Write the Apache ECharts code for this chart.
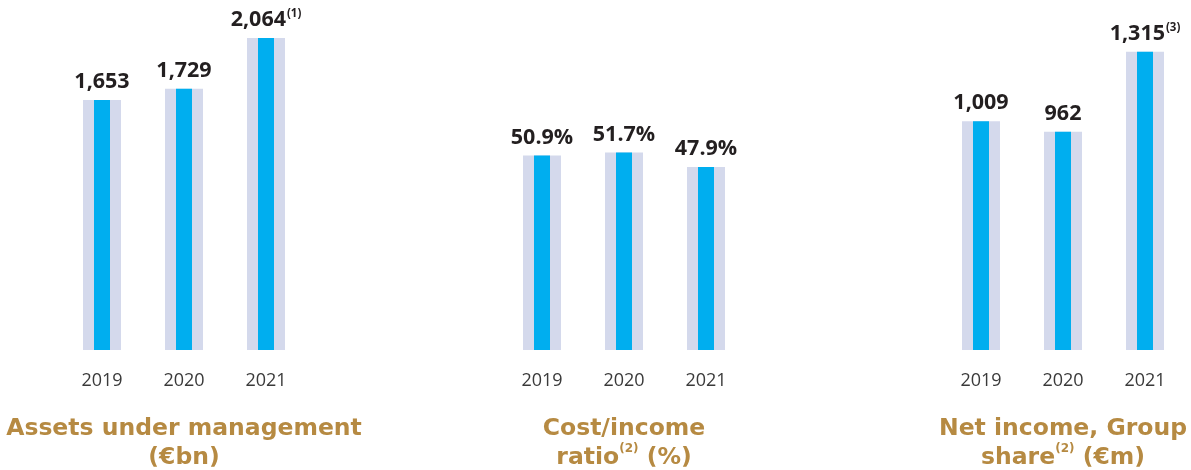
<!DOCTYPE html>
<html>
<head>
<meta charset="utf-8">
<script src="https://cdn.jsdelivr.net/npm/echarts@6/dist/echarts.min.js"></script>
<style>
html,body{margin:0;padding:0;background:#fff;}
#c{width:1191px;height:470px;}
</style>
</head>
<body>
<div id="c"></div>
<script>
// ---- data ----
const years = ['2019', '2020', '2021'];
const aum = [1653, 1729, 2064];
const aumNotes = ['', '', '(1)'];
const costIncome = [50.9, 51.7, 47.9];
const costNotes = ['', '', ''];
const netIncome = [1009, 962, 1315];
const netNotes = ['', '', '(3)'];
const titles = [
  [['Assets under management', ''], ['(€bn)', '']],
  [['Cost/income', ''], ['ratio', '(2)', ' (%)']],
  [['Net income, Group', ''], ['share', '(2)', ' (€m)']]
];

// ---- styling ----
const FONT = '"Open Sans", "Liberation Sans", sans-serif';
const TFONT = '"DejaVu Sans", "Open Sans", sans-serif';
const BLUE = '#00aeef';
const LAV = '#d4d9ec';
const DARK = '#231f20';
const GOLD = '#b68a42';

const panels = [
  { data: aum, notes: aumNotes, fmt: v => v.toLocaleString('en-US'), max: 2183, left: 61 },
  { data: costIncome, notes: costNotes, fmt: v => v.toFixed(1) + '%', max: 86.4, left: 501 },
  { data: netIncome, notes: netNotes, fmt: v => v.toLocaleString('en-US'), max: 1455, left: 940 }
];

const grid = [], xAxis = [], yAxis = [], series = [], graphic = [];
panels.forEach((p, i) => {
  grid.push({ left: p.left, top: 20, width: 246, height: 330, containLabel: false });
  xAxis.push({
    type: 'category', gridIndex: i, data: years,
    axisLine: { show: false }, axisTick: { show: false }, splitLine: { show: false },
    axisLabel: { margin: 22, fontFamily: FONT, fontSize: 18, color: '#3a3a3a' }
  });
  xAxis.push({ type: 'category', gridIndex: i, data: years, show: false });
  yAxis.push({ type: 'value', gridIndex: i, min: 0, max: p.max, show: false, splitLine: { show: false } });
  series.push({
    type: 'bar', xAxisIndex: 2 * i + 1, yAxisIndex: i, data: p.data,
    barWidth: 38, itemStyle: { color: LAV }, silent: true, z: 1
  });
  series.push({
    type: 'bar', xAxisIndex: 2 * i, yAxisIndex: i, data: p.data,
    barWidth: 16, itemStyle: { color: BLUE }, z: 2,
    label: {
      show: true, position: 'top', distance: 6,
      formatter: prm => '{v|' + p.fmt(prm.value) + '}' + (p.notes[prm.dataIndex] ? '{s|' + p.notes[prm.dataIndex] + '}' : ''),
      rich: {
        v: { fontFamily: FONT, fontWeight: 'bold', fontSize: 21.5, color: DARK, lineHeight: 24 },
        s: { fontFamily: FONT, fontWeight: 'bold', fontSize: 11.5, color: DARK, verticalAlign: 'top', lineHeight: 13, padding: [0, 0, 0, 1] }
      }
    }
  });
  const lines = titles[i];
  const txt = lines.map(parts => parts.map((s, k) => s ? (k === 1 ? '{s|' + s + '}' : '{t|' + s + '}') : '').join('')).join('\n');
  graphic.push({
    type: 'text', x: p.left + 123, y: 414,
    style: {
      text: txt, align: 'center', verticalAlign: 'top',
      rich: {
        t: { fontFamily: TFONT, fontWeight: 'bold', fontSize: 23.5, fill: GOLD, lineHeight: 29 },
        s: { fontFamily: TFONT, fontWeight: 'bold', fontSize: 12, fill: GOLD, verticalAlign: 'top', lineHeight: 14 }
      }
    }
  });
});

const chart = echarts.init(document.getElementById('c'), null, { renderer: 'canvas' });
chart.setOption({ animation: false, grid, xAxis, yAxis, series, graphic });
</script>
</body>
</html>
